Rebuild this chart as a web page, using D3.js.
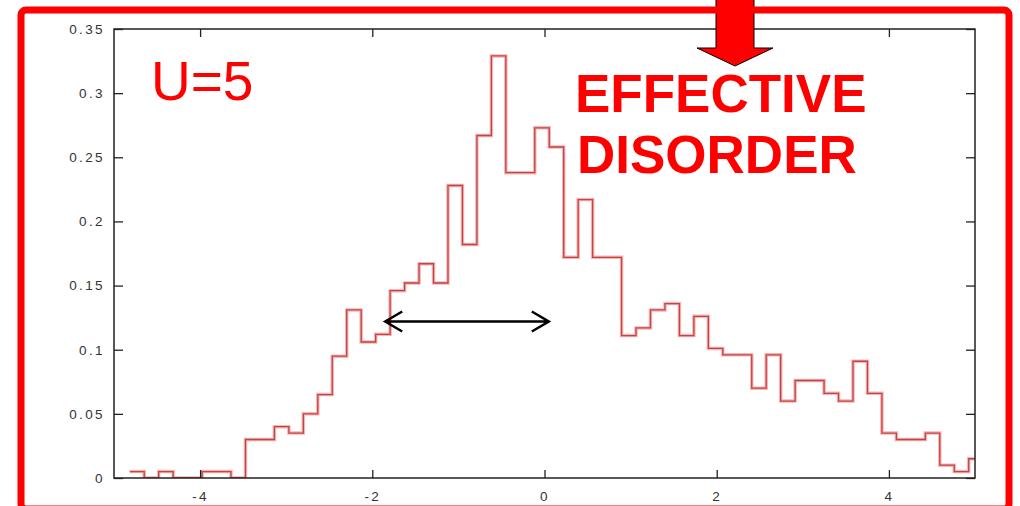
<!DOCTYPE html>
<html>
<head>
<meta charset="utf-8">
<script src="https://cdn.jsdelivr.net/npm/d3@7"></script>
<style>
  body { margin: 0; background: #fff; }
  svg { display: block; }
  .tick text { font-family: "Liberation Sans", Arial, sans-serif; font-size: 13.5px; fill: #333; letter-spacing: 2.4px; }
</style>
</head>
<body>
<script>
// histogram bins (left edge of first bin, bin width), heights
const binStart = -4.817;
const binWidth = 0.168;
const counts = [
  0.005, 0, 0.005, 0, 0, 0.005, 0.005, 0, 0.03, 0.03,
  0.04, 0.035, 0.05, 0.065, 0.095, 0.131, 0.106, 0.112, 0.146, 0.152,
  0.167, 0.152, 0.228, 0.182, 0.267, 0.329, 0.238, 0.238, 0.273, 0.258,
  0.172, 0.217, 0.172, 0.172, 0.111, 0.117, 0.131, 0.136, 0.111, 0.126,
  0.101, 0.096, 0.096, 0.070, 0.096, 0.060, 0.076, 0.076, 0.066, 0.060,
  0.091, 0.066, 0.035, 0.030, 0.030, 0.035, 0.010, 0.005, 0.015
];
const xTicks = [-4, -2, 0, 2, 4];
const yTicks = [0, 0.05, 0.1, 0.15, 0.2, 0.25, 0.3, 0.35];
const widthArrow = [-1.85, 0.05];   // black double arrow, x data range
const widthArrowY = 0.122;

const width = 1020, height = 506;
const margin = {top: 29, right: 45, bottom: 28, left: 114};

const svg = d3.select('body')
  .append('svg')
  .attr('width', width)
  .attr('height', height);

const x = d3.scaleLinear()
  .domain([-5, 5])
  .range([margin.left, width - margin.right]);

const y = d3.scaleLinear()
  .domain([0, 0.35])
  .range([height - margin.bottom, margin.top]);

svg.append('clipPath')
  .attr('id', 'plotclip')
  .append('rect')
  .attr('x', x(-5))
  .attr('y', y(0.35) - 5)
  .attr('width', x(5) - x(-5))
  .attr('height', y(0) - y(0.35) + 5);

// step line
const pts = counts.map((c, i) => [binStart + i * binWidth, c]);
pts.push([binStart + counts.length * binWidth, counts[counts.length - 1]]);

const step = d3.line()
  .x(d => x(d[0]))
  .y(d => y(d[1]))
  .curve(d3.curveStepAfter);

const hist = svg.append('g').attr('clip-path', 'url(#plotclip)');
hist.append('path')
  .datum(pts)
  .attr('d', step)
  .attr('fill', 'none')
  .attr('stroke', '#f6b4b4')
  .attr('stroke-width', 3.5);
hist.append('path')
  .datum(pts)
  .attr('d', step)
  .attr('fill', 'none')
  .attr('stroke', '#c24444')
  .attr('stroke-width', 1.3);

// axes, ticks pointing inward on all four sides
function styleAxis(g) {
  g.select('.domain').remove();
  g.selectAll('.tick line').attr('stroke', '#222').attr('stroke-width', 1.3);
}

svg.append('g')
  .attr('transform', 'translate(0,' + y(0) + ')')
  .call(d3.axisBottom(x).tickValues(xTicks).tickSize(-8).tickPadding(10).tickFormat(d => String(d)))
  .call(styleAxis)
  .selectAll('.tick text').attr('dy', '0.95em');

svg.append('g')
  .attr('transform', 'translate(0,' + y(0.35) + ')')
  .call(d3.axisTop(x).tickValues(xTicks).tickSize(-8).tickFormat(''))
  .call(styleAxis);

svg.append('g')
  .attr('transform', 'translate(' + x(-5) + ',0)')
  .call(d3.axisLeft(y).tickValues(yTicks).tickSize(-9).tickPadding(9).tickFormat(d => String(d)))
  .call(styleAxis);

svg.append('g')
  .attr('transform', 'translate(' + x(5) + ',0)')
  .call(d3.axisRight(y).tickValues(yTicks).tickSize(-9).tickFormat(''))
  .call(styleAxis);

svg.append('rect')
  .attr('x', x(-5))
  .attr('y', y(0.35))
  .attr('width', x(5) - x(-5))
  .attr('height', y(0) - y(0.35))
  .attr('fill', 'none')
  .attr('stroke', '#222')
  .attr('stroke-width', 1.5);

// black double arrow
const ax0 = x(widthArrow[0]), ax1 = x(widthArrow[1]), ay = y(widthArrowY);
svg.append('path')
  .attr('d', 'M' + ax0 + ',' + ay + 'H' + ax1 +
    'M' + (ax0 + 17) + ',' + (ay - 10) + 'L' + ax0 + ',' + ay + 'L' + (ax0 + 17) + ',' + (ay + 10) +
    'M' + (ax1 - 17) + ',' + (ay - 10) + 'L' + ax1 + ',' + ay + 'L' + (ax1 - 17) + ',' + (ay + 10))
  .attr('fill', 'none')
  .attr('stroke', '#000')
  .attr('stroke-width', 2.5);

// annotations
svg.append('text')
  .attr('x', 151)
  .attr('y', 100)
  .attr('font-family', '"Liberation Sans", Arial, sans-serif')
  .attr('font-size', 55)
  .attr('fill', '#ff0000')
  .text('U=5');

const label = svg.append('text')
  .attr('font-family', '"Liberation Sans", Arial, sans-serif')
  .attr('font-weight', 'bold')
  .attr('font-size', 53)
  .attr('fill', '#ff0000');
label.append('tspan').attr('x', 575).attr('y', 112).text('EFFECTIVE');
label.append('tspan').attr('x', 577).attr('y', 173).text('DISORDER');

// red arrow pointing down from the top
svg.append('path')
  .attr('d', 'M716,-5V48H697L735,66L773,48H754V-5Z')
  .attr('fill', '#ff0000')
  .attr('stroke', '#000')
  .attr('stroke-width', 1);

// red frame
svg.append('rect')
  .attr('x', 21)
  .attr('y', 10)
  .attr('width', 988)
  .attr('height', 499)
  .attr('rx', 5)
  .attr('fill', 'none')
  .attr('stroke', '#ff0000')
  .attr('stroke-width', 7);
</script>
</body>
</html>
